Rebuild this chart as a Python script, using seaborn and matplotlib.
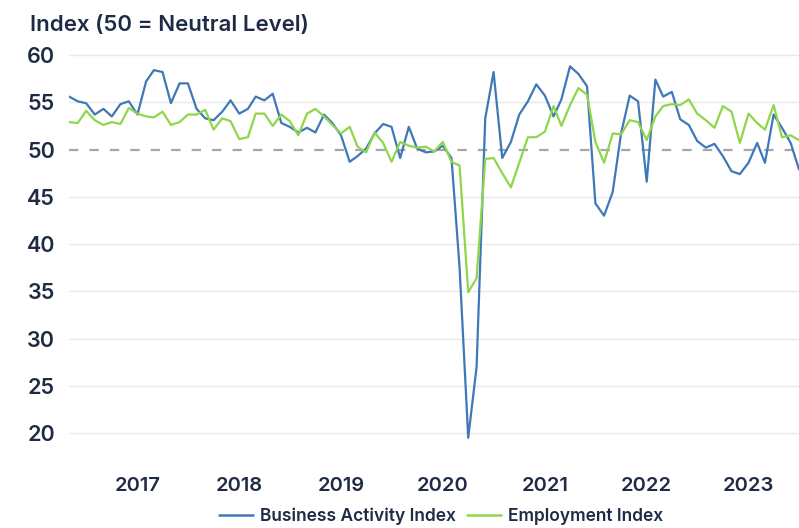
import pandas as pd
import matplotlib
matplotlib.use('Agg')
import matplotlib.pyplot as plt
import seaborn as sns

####################### Data #######################
# Monthly readings, May 2016 - July 2023
months = pd.date_range('2016-05-01', periods=87, freq='MS')

business_activity = [
    55.6, 55.1, 54.9, 53.7, 54.3, 53.5, 54.8, 55.1,   # 2016
    53.7, 57.2, 58.4, 58.2, 54.9, 57.0, 57.0, 54.3, 53.3, 53.1, 54.0, 55.2,   # 2017
    53.8, 54.3, 55.6, 55.2, 55.9, 52.8, 52.4, 51.8, 52.3, 51.8, 53.7, 52.8,   # 2018
    51.5, 48.7, 49.3, 50.1, 51.7, 52.7, 52.4, 49.1, 52.4, 50.1, 49.7, 49.8,   # 2019
    50.4, 49.1, 37.5, 19.5, 27.0, 53.3, 58.2, 49.1, 50.8, 53.7, 55.1, 56.9,   # 2020
    55.7, 53.5, 55.3, 58.8, 58.0, 56.7, 44.3, 43.0, 45.5, 51.7, 55.7, 55.1,   # 2021
    46.6, 57.4, 55.6, 56.1, 53.2, 52.6, 50.9, 50.2, 50.6, 49.3, 47.7, 47.4,   # 2022
    48.6, 50.7, 48.6, 53.7, 52.3, 50.7, 47.9,                                 # 2023
]

employment = [
    52.9, 52.8, 54.1, 53.1, 52.6, 52.9, 52.7, 54.4,
    53.8, 53.5, 53.4, 54.0, 52.6, 52.9, 53.7, 53.7, 54.2, 52.1, 53.3, 53.0,
    51.1, 51.3, 53.8, 53.8, 52.5, 53.7, 53.0, 51.5, 53.8, 54.3, 53.5, 52.6,
    51.7, 52.4, 50.3, 49.7, 51.8, 50.7, 48.7, 50.8, 50.4, 50.2, 50.3, 49.8,
    50.8, 48.7, 48.3, 34.9, 36.4, 49.0, 49.1, 47.5, 46.0, 48.6, 51.3, 51.3,
    51.9, 54.6, 52.5, 54.7, 56.5, 55.8, 50.8, 48.6, 51.7, 51.6, 53.1, 52.9,
    51.0, 53.5, 54.6, 54.8, 54.7, 55.3, 53.8, 53.1, 52.3, 54.6, 54.0, 50.7,
    53.8, 52.8, 52.1, 54.7, 51.3, 51.5, 51.0,
]

series_names = ['Business Activity Index', 'Employment Index']
series_colors = ['#3f78b8', '#8ed64b']
years = [2017, 2018, 2019, 2020, 2021, 2022, 2023]
y_ticks = [20, 25, 30, 35, 40, 45, 50, 55, 60]

df = pd.DataFrame({
    'Month': list(months) * 2,
    'Value': business_activity + employment,
    'Series': [series_names[0]] * len(months) + [series_names[1]] * len(months),
})

####################### Graph #######################
sns.set_style('white')
plt.rcParams['font.family'] = ['Inter', 'DejaVu Sans']
text_color = '#1f2b45'

fig = plt.figure(figsize=(7.99, 5.28), dpi=100)
ax = fig.add_axes([0.0865, 0.1262, 0.9135, 0.7875])

for y in y_ticks:
    if y != 50:
        ax.axhline(y, color='#e8e8e8', lw=1, zorder=0)
ax.axhline(50, color='#a6a6a6', lw=1.6, ls=(0, (4.2, 5.0)), zorder=1)

sns.lineplot(data=df, x='Month', y='Value', hue='Series',
             palette=dict(zip(series_names, series_colors)),
             linewidth=1.6, ax=ax, legend=False, zorder=3)

ax.set_xlim(months[0], months[-1])
ax.set_ylim(17, 61)
ax.set_yticks(y_ticks)
ax.set_yticklabels([str(v) for v in y_ticks], fontsize=15.5, fontweight='semibold',
                   color=text_color)
ax.set_xticks([pd.Timestamp(f'{y}-01-01') for y in years])
ax.set_xticklabels([str(y) for y in years], fontsize=14.5, fontweight='semibold',
                   color=text_color)
ax.tick_params(axis='y', length=0, pad=10)
ax.tick_params(axis='x', length=0, pad=11)
ax.set_xlabel('')
ax.set_ylabel('')
for side in ['top', 'right', 'left', 'bottom']:
    ax.spines[side].set_visible(False)

fig.text(30 / 799, 1 - 25 / 528, 'Index (50 = Neutral Level)', fontsize=16,
         fontweight='semibold', color=text_color, ha='left', va='center')

# legend sits right at the bottom edge, as in the original
handles = [plt.Line2D([], [], color=c, lw=1.8) for c in series_colors]
fig.legend(handles, series_names, loc='center', bbox_to_anchor=(441 / 799, 1 - 516 / 528),
           ncol=2, frameon=False, handlelength=2.0, handletextpad=0.4,
           columnspacing=0.6, labelcolor=text_color, borderpad=0.1,
           prop={'weight': 'semibold', 'size': 12.5})

fig.savefig('out.png', dpi=100)
